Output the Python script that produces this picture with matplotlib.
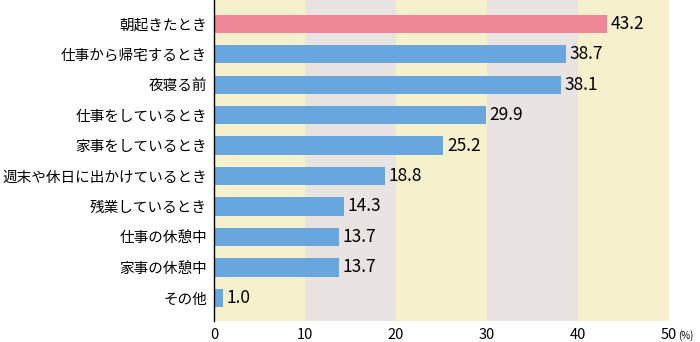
import matplotlib
matplotlib.use('Agg')
import matplotlib.pyplot as plt
import matplotlib.transforms as mtransforms

plt.rcParams['font.family'] = ['Noto Sans CJK JP', 'DejaVu Sans']

categories = ['朝起きたとき', '仕事から帰宅するとき', '夜寝る前', '仕事をしているとき',
              '家事をしているとき', '週末や休日に出かけているとき', '残業しているとき',
              '仕事の休憩中', '家事の休憩中', 'その他']
values = [43.2, 38.7, 38.1, 29.9, 25.2, 18.8, 14.3, 13.7, 13.7, 1.0]
xticks = [0, 10, 20, 30, 40, 50]

pink = '#EE8898'
blue = '#67A7DE'
band_colors = ['#F6F0CD', '#E9E3E2']

fig = plt.figure(figsize=(7, 3.42), dpi=100)
ax = fig.add_axes([214 / 700, 1 - 321 / 342, 455 / 700, 321 / 342])

# alternating background bands every 10 points
for i in range(5):
    ax.axvspan(i * 10, (i + 1) * 10, color=band_colors[i % 2], lw=0, zorder=0)

ypos = list(range(len(categories)))
colors = [pink] + [blue] * (len(values) - 1)
ax.barh(ypos, values, height=0.6, color=colors, zorder=2)

for y, v in zip(ypos, values):
    ax.text(v + 0.4, y, f'{v:.1f}', va='center', ha='left', fontsize=12.5, zorder=3)

ax.set_xlim(0, 50)
ax.set_ylim(len(categories) - 0.24, -0.78)
ax.set_yticks(ypos)
ax.set_yticklabels(categories, fontsize=10.5)
ax.set_xticks(xticks)
ax.set_xticklabels([str(t) for t in xticks], fontsize=10.5)
ax.tick_params(axis='y', length=0, pad=5)
ax.tick_params(axis='x', length=0, pad=5)

for side in ['top', 'right', 'bottom']:
    ax.spines[side].set_visible(False)
ax.spines['left'].set_linewidth(1.0)
ax.spines['left'].set_zorder(4)

# unit marker next to the last tick label
unit_tf = mtransforms.blended_transform_factory(ax.transData, fig.transFigure)
ax.text(51.0, 1 - 339 / 342, '(%)', transform=unit_tf, fontsize=7,
        va='baseline', ha='left', clip_on=False)

fig.savefig('out.png', dpi=100)
